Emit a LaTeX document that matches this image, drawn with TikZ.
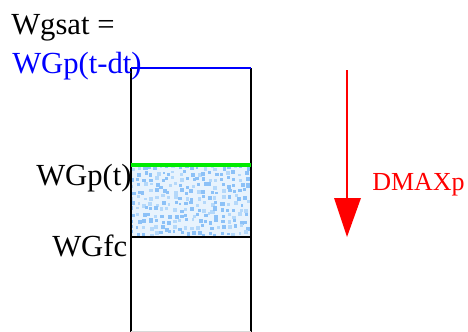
\documentclass[tikz,border=0pt]{standalone}
\usepackage{fontspec}
\setmainfont{Liberation Serif}
\definecolor{zoneback}{RGB}{232,243,253}
\definecolor{dotlight}{RGB}{180,216,250}
\definecolor{dotdark}{RGB}{140,193,247}
\definecolor{levelgreen}{RGB}{0,235,0}
\begin{document}
\begin{tikzpicture}[x=0.75pt,y=-0.75pt,
  label/.style={inner sep=0pt,anchor=base west,font=\fontsize{23}{27}\selectfont},
  wall/.style={draw=black,line width=1.5pt},
  flux/.style={draw=red,line width=1.5pt}]
\useasboundingbox (0,0) rectangle (468,332);
% wetted zone between WGfc and WGp(t): speckled fill on a jittered grid
\fill[zoneback] (131,166) rectangle (251,237);
\begin{scope}
  \clip (131,166) rectangle (251,237);
  \pgfmathsetseed{11}
  \foreach \gx in {129,135,...,253}{
    \foreach \gy in {164,170,...,240}{
      \pgfmathsetmacro\rx{\gx+rnd*4}
      \pgfmathsetmacro\ry{\gy+rnd*4}
      \pgfmathsetmacro\rs{2.6+rnd*1.6}
      \pgfmathsetmacro\rc{rnd}
      \ifdim\rc pt<0.55pt
        \fill[dotdark] (\rx,\ry) rectangle ++(\rs,\rs);
      \else
        \fill[dotlight] (\rx,\ry) rectangle ++(\rs,\rs);
      \fi
    }
  }
\end{scope}
% soil column
\draw[wall] (131,68) -- (131,332);
\draw[wall] (251,68) -- (251,332);
\draw[wall] (131,237) -- (251,237);
\draw[draw=black!15,line width=0.75pt] (131,331.5) -- (251,331.5);
\draw[draw=blue,line width=1.5pt] (131,68) -- (251,68);
\draw[draw=levelgreen,line width=2.4pt] (131,165) -- (251,165);
% labels
\node[label] (wgsat) at (11,35) {Wgsat =};
\node[label,text=blue] (wgpdt) at (12,73) {WGp(t-dt)};
\node[label] (wgpt) at (36,185) {WGp(t)};
\node[label] (wgfc) at (52,256) {WGfc};
\node[inner sep=0pt,anchor=base west,text=red,font=\fontsize{19.5}{23}\selectfont] (dmax) at (372,190) {DMAXp};
% drainage arrow
\coordinate (dtop) at (347,70);
\coordinate (dbase) at (347,199);
\coordinate (dtip) at (347,237);
\draw[flux] (dtop) -- (dbase);
\fill[red] (334,198) -- (361,198) -- (dtip) -- cycle;
\end{tikzpicture}
\end{document}
